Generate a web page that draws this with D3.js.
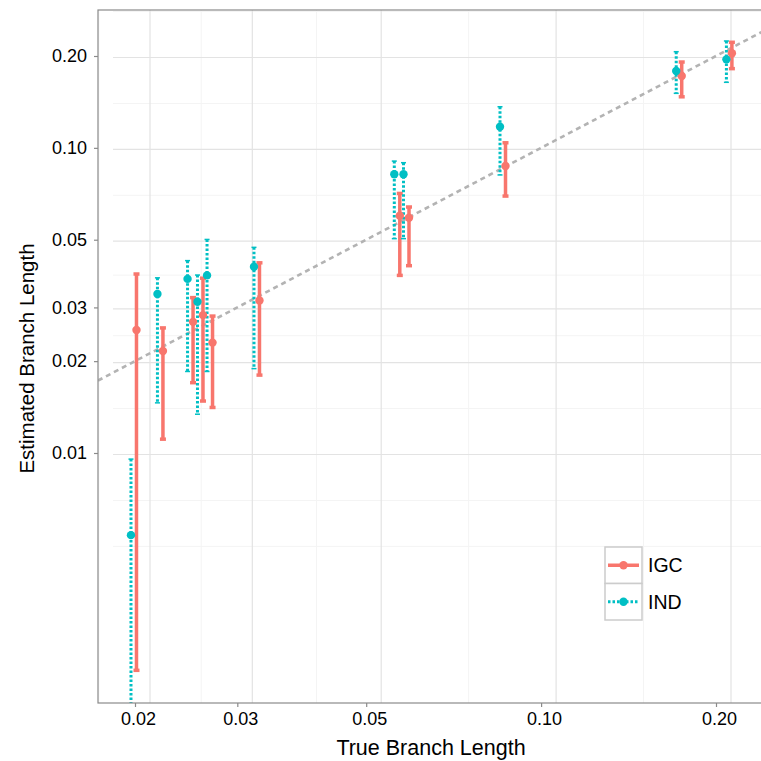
<!DOCTYPE html>
<meta charset="utf-8">
<html>
<head>
<style>
  body { margin: 0; background: #fff; }
  svg { display: block; }
  text { font-family: "Liberation Sans", Arial, Helvetica, sans-serif; fill: #000; }
</style>
</head>
<body>
<svg id="chart" width="761" height="761"></svg>
<script src="https://d3js.org/d3.v7.min.js"></script>
<script>

// true branch length for each branch
var trueLen = [0.0199, 0.0221, 0.0249, 0.0259, 0.0269, 0.0324, 0.0565, 0.0586, 0.0859, 0.1727, 0.2107];

// IGC estimates with lower/upper bounds
var igcEst = [0.0253, 0.0216, 0.0269, 0.0283, 0.0230, 0.0316, 0.0599, 0.0590, 0.0872, 0.172, 0.2041];
var igcLo  = [0.00194, 0.0111, 0.0170, 0.0148, 0.0141, 0.0180, 0.0382, 0.0411, 0.0695, 0.147, 0.1818];
var igcHi  = [0.0386, 0.0257, 0.0323, 0.0374, 0.0281, 0.0420, 0.0709, 0.0640, 0.1039, 0.1911, 0.2218];

// IND estimates with lower/upper bounds
var indEst = [0.00538, 0.0332, 0.0372, 0.0313, 0.0382, 0.0408, 0.0819, 0.0819, 0.1173, 0.1786, 0.195];
var indLo  = [0.0012, 0.0146, 0.0185, 0.0134, 0.0185, 0.0189, 0.0504, 0.0504, 0.0815, 0.1509, 0.164];
var indHi  = [0.00955, 0.0375, 0.0427, 0.0383, 0.0501, 0.0472, 0.0905, 0.0894, 0.1364, 0.2066, 0.224];

var xTicks = [0.02, 0.03, 0.05, 0.10, 0.20];
var yTicks = [0.01, 0.02, 0.03, 0.05, 0.10, 0.20];
var xMinor = [0.01633, 0.0245, 0.0387, 0.0707, 0.1414];
var yMinor = [0.005, 0.00707, 0.01414, 0.0245, 0.0387, 0.0707, 0.1414, 0.283];

var seriesNames = ["IGC", "IND"];
var colors = {IGC: "#F8766D", IND: "#00BFC4"};

var svg = d3.select("#chart");
var panel = {left: 98, top: 10, right: 762, bottom: 703};

var x = d3.scaleLog().domain([0.02, 0.2]).range([135, 716]);
var y = d3.scaleLog().domain([0.01, 0.2]).range([453, 56]);

svg.append("defs").append("clipPath").attr("id", "clip")
  .append("rect")
    .attr("x", panel.left).attr("y", panel.top)
    .attr("width", panel.right - panel.left).attr("height", panel.bottom - panel.top);

// grid (the reference grid sits a bit off the axes)
var grid = svg.append("g").attr("clip-path", "url(#clip)")
  .append("g").attr("transform", "translate(15,1.5)");

grid.selectAll(".hminor").data(yMinor).enter().append("line")
    .attr("x1", panel.left).attr("x2", panel.right + 20)
    .attr("y1", function(d) { return y(d); }).attr("y2", function(d) { return y(d); })
    .attr("stroke", "#f4f4f4").attr("stroke-width", 1);
grid.selectAll(".vminor").data(xMinor).enter().append("line")
    .attr("y1", panel.top - 5).attr("y2", panel.bottom)
    .attr("x1", function(d) { return x(d); }).attr("x2", function(d) { return x(d); })
    .attr("stroke", "#f4f4f4").attr("stroke-width", 1);
grid.selectAll(".hmajor").data(yTicks).enter().append("line")
    .attr("x1", panel.left).attr("x2", panel.right + 20)
    .attr("y1", function(d) { return y(d); }).attr("y2", function(d) { return y(d); })
    .attr("stroke", "#e3e3e3").attr("stroke-width", 1.2);
grid.selectAll(".vmajor").data(xTicks).enter().append("line")
    .attr("y1", panel.top - 5).attr("y2", panel.bottom)
    .attr("x1", function(d) { return x(d); }).attr("x2", function(d) { return x(d); })
    .attr("stroke", "#e3e3e3").attr("stroke-width", 1.2);

var plot = svg.append("g").attr("clip-path", "url(#clip)");

// y = x reference line
var lo = x.invert(panel.left), hi = x.invert(panel.right);
plot.append("line")
    .attr("x1", x(lo)).attr("y1", y(lo))
    .attr("x2", x(hi)).attr("y2", y(hi))
    .attr("stroke", "#b3b3b3").attr("stroke-width", 2.6)
    .attr("stroke-dasharray", "5,4");

var data = [];
trueLen.forEach(function(t, i) {
  data.push({s: "IGC", t: t, est: igcEst[i], lo: igcLo[i], hi: igcHi[i], dx: 2.75});
  data.push({s: "IND", t: t, est: indEst[i], lo: indLo[i], hi: indHi[i], dx: -2.75});
});

function drawBars(name) {
  var rows = data.filter(function(d) { return d.s == name; });
  var g = plot.append("g");
  var dotted = name == "IND";
  g.selectAll("line.bar").data(rows).enter().append("line")
      .attr("x1", function(d) { return x(d.t) + d.dx; })
      .attr("x2", function(d) { return x(d.t) + d.dx; })
      .attr("y1", function(d) { return y(d.hi); })
      .attr("y2", function(d) { return y(d.lo); })
      .attr("stroke", colors[name])
      .attr("stroke-width", dotted ? 3 : 3.5)
      .attr("stroke-dasharray", dotted ? "2.5,2" : null);
  ["lo", "hi"].forEach(function(k) {
    g.selectAll("line.cap" + k).data(rows).enter().append("line")
        .attr("x1", function(d) { return x(d.t) + d.dx - (dotted ? 2.5 : 3); })
        .attr("x2", function(d) { return x(d.t) + d.dx + (dotted ? 2.5 : 3); })
        .attr("y1", function(d) { return y(d[k]); })
        .attr("y2", function(d) { return y(d[k]); })
        .attr("stroke", colors[name])
        .attr("stroke-width", dotted ? 1.5 : 3.5);
  });
}

function drawPoints(name) {
  var rows = data.filter(function(d) { return d.s == name; });
  plot.append("g").selectAll("circle").data(rows).enter().append("circle")
      .attr("cx", function(d) { return x(d.t) + d.dx; })
      .attr("cy", function(d) { return y(d.est); })
      .attr("r", 4.2)
      .attr("fill", colors[name]);
}

seriesNames.forEach(drawBars);
seriesNames.forEach(drawPoints);

// panel border
svg.append("rect")
    .attr("x", panel.left).attr("y", panel.top)
    .attr("width", panel.right - panel.left).attr("height", panel.bottom - panel.top)
    .attr("fill", "none").attr("stroke", "#8a8a8a").attr("stroke-width", 1.2);

// axes
var yAxis = svg.append("g")
    .attr("transform", "translate(" + panel.left + ",0)")
    .call(d3.axisLeft(y).tickValues(yTicks).tickFormat(d3.format(".2f")).tickSize(4).tickPadding(7));
var xAxis = svg.append("g")
    .attr("transform", "translate(0," + panel.bottom + ")")
    .call(d3.axisBottom(x).tickValues(xTicks).tickFormat(d3.format(".2f")).tickSize(4).tickPadding(5));
[xAxis, yAxis].forEach(function(a) {
  a.select(".domain").remove();
  a.selectAll(".tick line").attr("stroke", "#8a8a8a").attr("stroke-width", 1.2);
  a.selectAll(".tick text").attr("font-size", 18).attr("fill", "#111")
      .style("font-family", "'Liberation Sans', Arial, sans-serif");
});
xAxis.selectAll(".tick text").attr("dx", 3);

svg.append("text")
    .attr("x", 431).attr("y", 755)
    .attr("text-anchor", "middle").attr("font-size", 21.5)
    .text("True Branch Length");
svg.append("text")
    .attr("transform", "translate(34," + ((panel.top + panel.bottom) / 2 + 2) + ") rotate(-90)")
    .attr("text-anchor", "middle").attr("font-size", 20.5)
    .text("Estimated Branch Length");

// legend
var legend = svg.append("g").attr("transform", "translate(605,547)");
seriesNames.forEach(function(name, i) {
  var k = legend.append("g").attr("transform", "translate(0," + (i * 36.5) + ")");
  k.append("rect").attr("width", 37).attr("height", 36.5)
      .attr("fill", "#fff").attr("stroke", "#cccccc").attr("stroke-width", 1.5);
  k.append("line").attr("x1", 3).attr("x2", 34).attr("y1", 18.25).attr("y2", 18.25)
      .attr("stroke", colors[name])
      .attr("stroke-width", name == "IND" ? 3 : 3.5)
      .attr("stroke-dasharray", name == "IND" ? "2.5,2" : null);
  k.append("circle").attr("cx", 18.5).attr("cy", 18.25).attr("r", 4.2).attr("fill", colors[name]);
  k.append("text").attr("x", 43).attr("y", 18.25).attr("dy", "0.36em")
      .attr("font-size", 19.5).text(name);
});

</script>
</body>
</html>
